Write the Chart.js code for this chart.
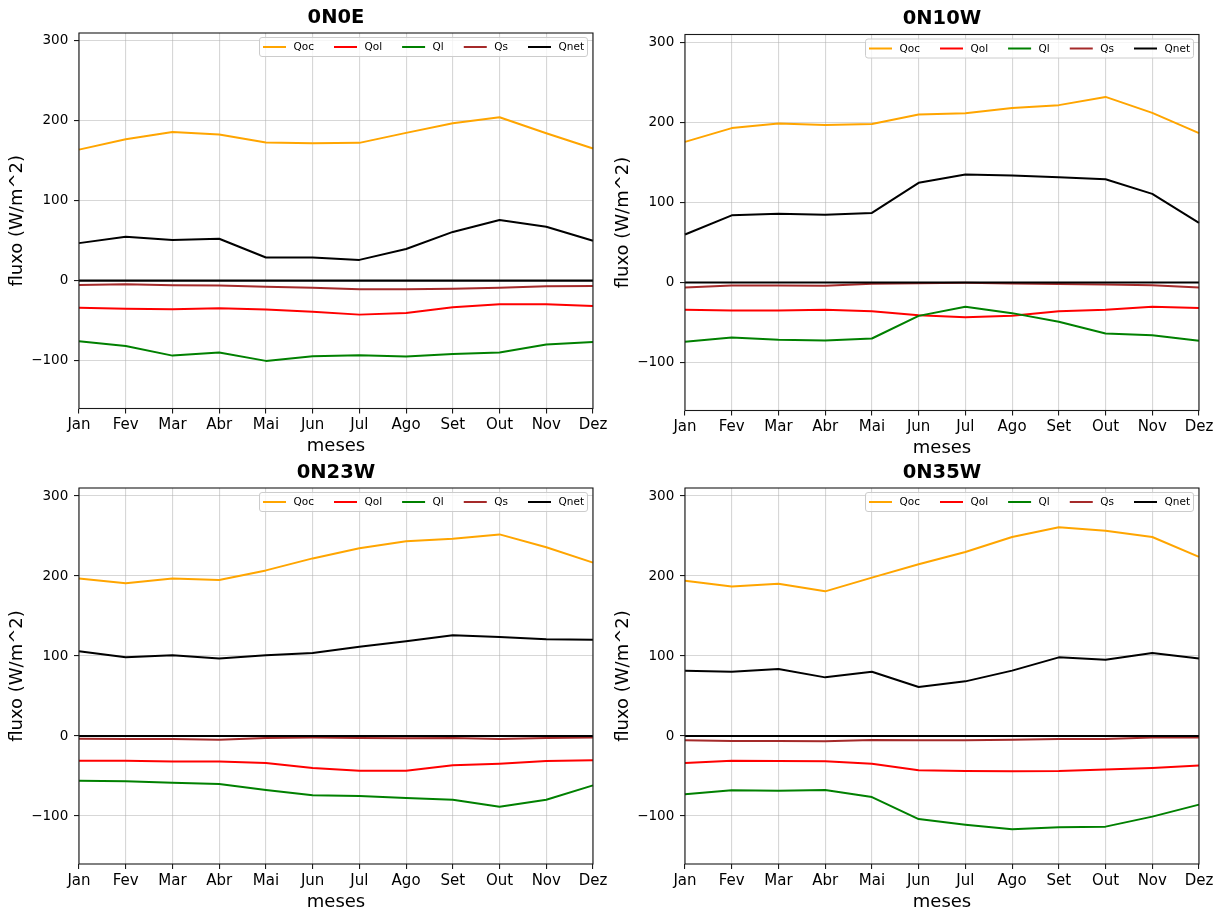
<!DOCTYPE html>
<html>
<head>
<meta charset="utf-8">
<script src="https://cdn.jsdelivr.net/npm/chart.js@4.4.0/dist/chart.umd.min.js"></script>
<style>
  html, body { margin: 0; padding: 0; background: #ffffff; }
  body { width: 1226px; height: 911px; position: relative; overflow: hidden; }
  canvas { position: absolute; }
</style>
</head>
<body>
<canvas id="c1" width="613" height="455" style="left:0px;top:0px;width:613px;height:455px"></canvas>
<canvas id="c2" width="620" height="457" style="left:606px;top:0px;width:620px;height:457px"></canvas>
<canvas id="c3" width="613" height="456" style="left:0px;top:455px;width:613px;height:456px"></canvas>
<canvas id="c4" width="620" height="456" style="left:606px;top:455px;width:620px;height:456px"></canvas>
<script>
// Monthly heat-flux components (W/m^2) at four buoy sites
const months = ['Jan', 'Fev', 'Mar', 'Abr', 'Mai', 'Jun', 'Jul', 'Ago', 'Set', 'Out', 'Nov', 'Dez'];
const yTicks = [-100, 0, 100, 200, 300];

// 0N0E
const qoc_0N0E  = [164, 177, 186, 183, 173, 172, 172.5, 185, 197, 204.5, 184.5, 165.5];
const qol_0N0E  = [-34, -35, -35.8, -34.6, -36, -39, -42.5, -40.4, -33.3, -29.6, -29.6, -31.7];
const ql_0N0E   = [-75.8, -81.7, -93.8, -90, -100.4, -94.6, -93.3, -95, -91.7, -90, -80, -76.7];
const qs_0N0E   = [-5.4, -4.6, -5.8, -6.2, -7.5, -8.8, -10.8, -10.8, -10, -8.8, -7, -6.7];
const qnet_0N0E = [47, 55, 51, 52.5, 29, 29, 26, 39.6, 61, 76, 67.5, 50];

// 0N10W
const qoc_0N10W  = [175.8, 193, 198.8, 197, 198, 210, 211.7, 218, 221.7, 232, 212, 186.7];
const qol_0N10W  = [-34, -35, -35, -34, -36, -41, -43.3, -41.7, -35.8, -34, -30.4, -32];
const ql_0N10W   = [-74, -68.8, -71.7, -72.5, -70, -41.7, -30.4, -38.3, -49, -63.8, -65.8, -72.9];
const qs_0N10W   = [-6.3, -3.8, -3.8, -4.2, -1.7, -0.8, -0.4, -1.2, -2, -2.5, -3.3, -6.3];
const qnet_0N10W = [60, 84, 85.8, 84.6, 87, 124.6, 135, 133.8, 131.7, 129, 110.8, 74.6];

// 0N23W
const qoc_0N23W  = [197, 191, 197, 195, 207, 222, 234.6, 243.3, 246.7, 252, 236, 216.7];
const qol_0N23W  = [-30.8, -30.8, -32, -32, -33.8, -40, -43.3, -43.3, -36.7, -34.6, -31.3, -30.4];
const ql_0N23W   = [-55.8, -56.7, -58.3, -60, -67.5, -74.2, -75, -77.5, -79.6, -88.3, -79.6, -61.7];
const qs_0N23W   = [-3.3, -3.8, -3.8, -4.6, -2.5, -2, -2.5, -2.9, -2.5, -3.8, -2.5, -2];
const qnet_0N23W = [105.8, 98.3, 101, 97, 100.8, 103.8, 111.7, 118.3, 126, 123.8, 121, 120.4];

// 0N35W
const qoc_0N35W  = [194, 187, 190.4, 180.8, 198, 214.6, 230, 248.8, 261, 256.7, 248.8, 224];
const qol_0N35W  = [-33.8, -30.8, -31.3, -31.7, -34.6, -42.9, -43.8, -44.2, -43.8, -42, -40, -37];
const ql_0N35W   = [-72.9, -67.9, -68.3, -67.5, -76.3, -103.8, -110.8, -116.7, -114.2, -113.3, -100.8, -85.8];
const qs_0N35W   = [-5.4, -6.3, -6.3, -6.7, -5, -5.4, -5.4, -4.6, -3.8, -3.8, -2, -2];
const qnet_0N35W = [81.7, 80.4, 83.8, 73.3, 80.4, 61.3, 68.3, 81.7, 98.3, 95.4, 103.8, 97];

const zeroLine = months.map(() => 0);

const FONT = 'DejaVu Sans';
Chart.defaults.font.family = FONT;
Chart.defaults.color = '#000000';

// Draws the four axis spines and a boxed legend inside the top-right of the plot
const framePlugin = {
  id: 'frameAndLegend',
  afterDatasetsDraw(chart) {
    const a = chart.chartArea, ctx = chart.ctx;
    ctx.save();
    ctx.strokeStyle = '#1a1a1a';
    ctx.lineWidth = 1.1;
    ctx.strokeRect(a.left, a.top, a.right - a.left, a.bottom - a.top);
    ctx.restore();
  },
  afterDraw(chart) {
    const a = chart.chartArea, ctx = chart.ctx;
    const items = chart.data.datasets.filter(d => !d.noLegend);
    ctx.save();
    ctx.font = '10.5px "' + FONT + '"';
    const widths = items.map(d => ctx.measureText(d.label).width);
    const pad = 3.5, handle = 23, textPad = 7.5, colGap = 20, h = 19;
    const total = pad * 2 + items.length * (handle + textPad) +
      widths.reduce((s, w) => s + w, 0) + colGap * (items.length - 1);
    const x0 = a.right - 5.5 - total, y0 = a.top + 4.5;
    ctx.beginPath();
    if (ctx.roundRect) ctx.roundRect(x0, y0, total, h, 2.5); else ctx.rect(x0, y0, total, h);
    ctx.fillStyle = 'rgba(255,255,255,0.8)';
    ctx.fill();
    ctx.strokeStyle = '#cccccc';
    ctx.lineWidth = 1;
    ctx.stroke();
    const cy = y0 + h / 2;
    let x = x0 + pad;
    ctx.textBaseline = 'middle';
    ctx.textAlign = 'left';
    items.forEach((d, i) => {
      ctx.beginPath();
      ctx.moveTo(x, cy);
      ctx.lineTo(x + handle, cy);
      ctx.strokeStyle = d.borderColor;
      ctx.lineWidth = 2;
      ctx.stroke();
      ctx.fillStyle = '#000000';
      ctx.fillText(d.label, x + handle + textPad, cy + 0.5);
      x += handle + textPad + widths[i] + colGap;
    });
    ctx.restore();
  }
};

function series(label, data, color, order) {
  return {
    label, data, borderColor: color, backgroundColor: color,
    borderWidth: 2, pointRadius: 0, tension: 0, fill: false,
    borderJoinStyle: 'round', order
  };
}

function makePanel(id, title, q, layout) {
  const datasets = [
    series('Qoc', q.qoc, '#FFA500', 6),
    series('Qol', q.qol, '#FF0000', 5),
    series('Ql', q.ql, '#008000', 4),
    series('Qs', q.qs, '#A52A2A', 3),
    series('Qnet', q.qnet, '#000000', 2),
    Object.assign(series('zero', zeroLine, '#000000', 1), { borderWidth: 2.2, noLegend: true })
  ];
  new Chart(document.getElementById(id), {
    type: 'line',
    data: { labels: months, datasets },
    plugins: [framePlugin],
    options: {
      responsive: false,
      animation: false,
      devicePixelRatio: 1,
      layout: { padding: { left: 0, top: 0, bottom: 0, right: layout.right } },
      plugins: {
        legend: { display: false },
        tooltip: { enabled: false },
        title: {
          display: true, text: title, fullSize: false, color: '#000000',
          font: { family: FONT, size: 19.5, weight: 'bold' },
          padding: { top: layout.titleTop, bottom: 3.4 }
        }
      },
      scales: {
        x: {
          type: 'category', offset: false,
          afterFit: s => { s.height = layout.xh; },
          grid: { color: 'rgba(176,176,176,0.5)', lineWidth: 1.1, tickColor: '#1a1a1a', tickLength: 5, offset: false, drawTicks: true },
          border: { display: false },
          ticks: { font: { family: FONT, size: 15 }, color: '#000000', padding: 3, maxRotation: 0, autoSkip: false },
          title: { display: true, text: 'meses', font: { family: FONT, size: 18 }, color: '#000000', padding: { top: 0, bottom: -2 } }
        },
        y: {
          min: -160, max: 310,
          afterFit: s => { s.width = 79; },
          afterBuildTicks: s => { s.ticks = yTicks.map(v => ({ value: v })); },
          grid: { color: 'rgba(176,176,176,0.5)', lineWidth: 1.1, tickColor: '#1a1a1a', tickLength: 5 },
          border: { display: false },
          ticks: {
            font: { family: FONT, size: 13.5 }, color: '#000000', padding: 5.7,
            callback: v => (v < 0 ? '\u2212' + Math.abs(v) : String(v))
          },
          title: { display: true, text: 'fluxo (W/m^2)', font: { family: FONT, size: 18 }, color: '#000000', padding: { top: 6.7, bottom: 0 } }
        }
      }
    }
  });
}

makePanel('c1', '0N0E',
  { qoc: qoc_0N0E, qol: qol_0N0E, ql: ql_0N0E, qs: qs_0N0E, qnet: qnet_0N0E },
  { right: 20, titleTop: 6.2, xh: 46.5 });
makePanel('c2', '0N10W',
  { qoc: qoc_0N10W, qol: qol_0N10W, ql: ql_0N10W, qs: qs_0N10W, qnet: qnet_0N10W },
  { right: 27, titleTop: 7.7, xh: 46.5 });
makePanel('c3', '0N23W',
  { qoc: qoc_0N23W, qol: qol_0N23W, ql: ql_0N23W, qs: qs_0N23W, qnet: qnet_0N23W },
  { right: 20, titleTop: 6.2, xh: 47 });
makePanel('c4', '0N35W',
  { qoc: qoc_0N35W, qol: qol_0N35W, ql: ql_0N35W, qs: qs_0N35W, qnet: qnet_0N35W },
  { right: 27, titleTop: 6.2, xh: 47 });
</script>
</body>
</html>
